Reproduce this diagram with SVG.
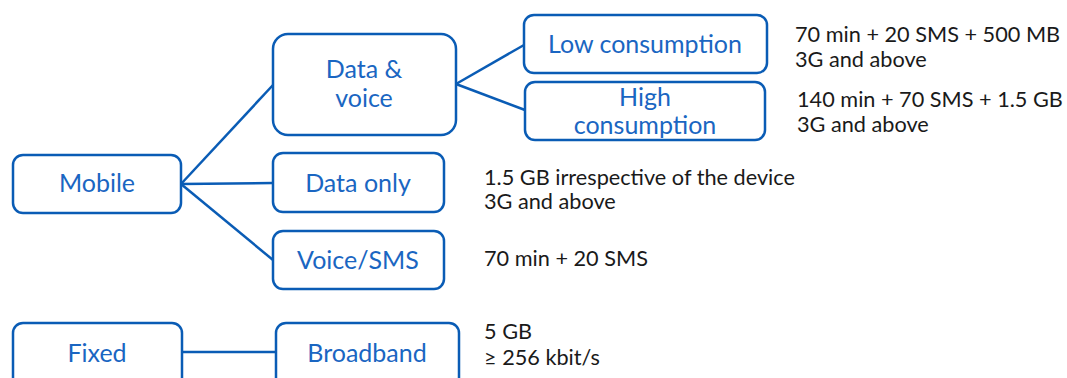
<svg xmlns="http://www.w3.org/2000/svg" width="1067" height="378" viewBox="0 0 1067 378">
<style>
.box{fill:#fff;stroke:#0a5cb5;stroke-width:2.5}
.lbl{font-family:Lato,"Open Sans",sans-serif;font-size:25px;fill:#1a66c2;text-anchor:middle}
.desc{font-family:Lato,"Open Sans",sans-serif;font-size:21.7px;fill:#1a1a1a}
.con{stroke:#0a5cb5;stroke-width:2.5;fill:none}
</style>
<rect width="1067" height="378" fill="#fff"/>
<g id="connectors">
<line class="con" x1="181" y1="184" x2="273" y2="85"/>
<line class="con" x1="181" y1="184" x2="273" y2="183"/>
<line class="con" x1="181" y1="184" x2="273" y2="260"/>
<line class="con" x1="456" y1="84" x2="524" y2="45"/>
<line class="con" x1="456" y1="84" x2="525" y2="110"/>
<line class="con" x1="182" y1="352" x2="276" y2="352"/>
</g>
<g id="mobile"><rect class="box" x="13" y="155" width="168" height="58" rx="10"/><text class="lbl" x="97" y="192">Mobile</text></g>
<g id="data-voice"><rect class="box" x="273" y="34" width="183" height="101" rx="15"/><text class="lbl" x="364" y="78">Data &amp;</text><text class="lbl" x="364" y="107">voice</text></g>
<g id="low"><rect class="box" x="524" y="15" width="243" height="58" rx="10"/><text class="lbl" x="645" y="53">Low consumption</text></g>
<g id="high"><rect class="box" x="525" y="82" width="240" height="58" rx="10"/><text class="lbl" x="645" y="106">High</text><text class="lbl" x="645" y="134">consumption</text></g>
<g id="data-only"><rect class="box" x="273" y="153" width="171" height="59" rx="10"/><text class="lbl" x="358" y="192">Data only</text></g>
<g id="voice-sms"><rect class="box" x="273" y="231" width="171" height="58" rx="10"/><text class="lbl" x="358" y="269">Voice/SMS</text></g>
<g id="fixed"><rect class="box" x="13" y="323" width="169" height="70" rx="10"/><text class="lbl" x="97" y="362">Fixed</text></g>
<g id="broadband"><rect class="box" x="276" y="323" width="183" height="70" rx="10"/><text class="lbl" x="367" y="362">Broadband</text></g>
<g id="descriptions">
<text class="desc" x="795" y="42">70 min + 20 SMS + 500 MB</text>
<text class="desc" x="795" y="67">3G and above</text>
<text class="desc" x="797" y="107">140 min + 70 SMS + 1.5 GB</text>
<text class="desc" x="797" y="132">3G and above</text>
<text class="desc" x="484" y="185">1.5 GB irrespective of the device</text>
<text class="desc" x="484" y="209">3G and above</text>
<text class="desc" x="484" y="266">70 min + 20 SMS</text>
<text class="desc" x="484" y="339">5 GB</text>
<text class="desc" x="484" y="365">≥ 256 kbit/s</text>
</g>
</svg>
